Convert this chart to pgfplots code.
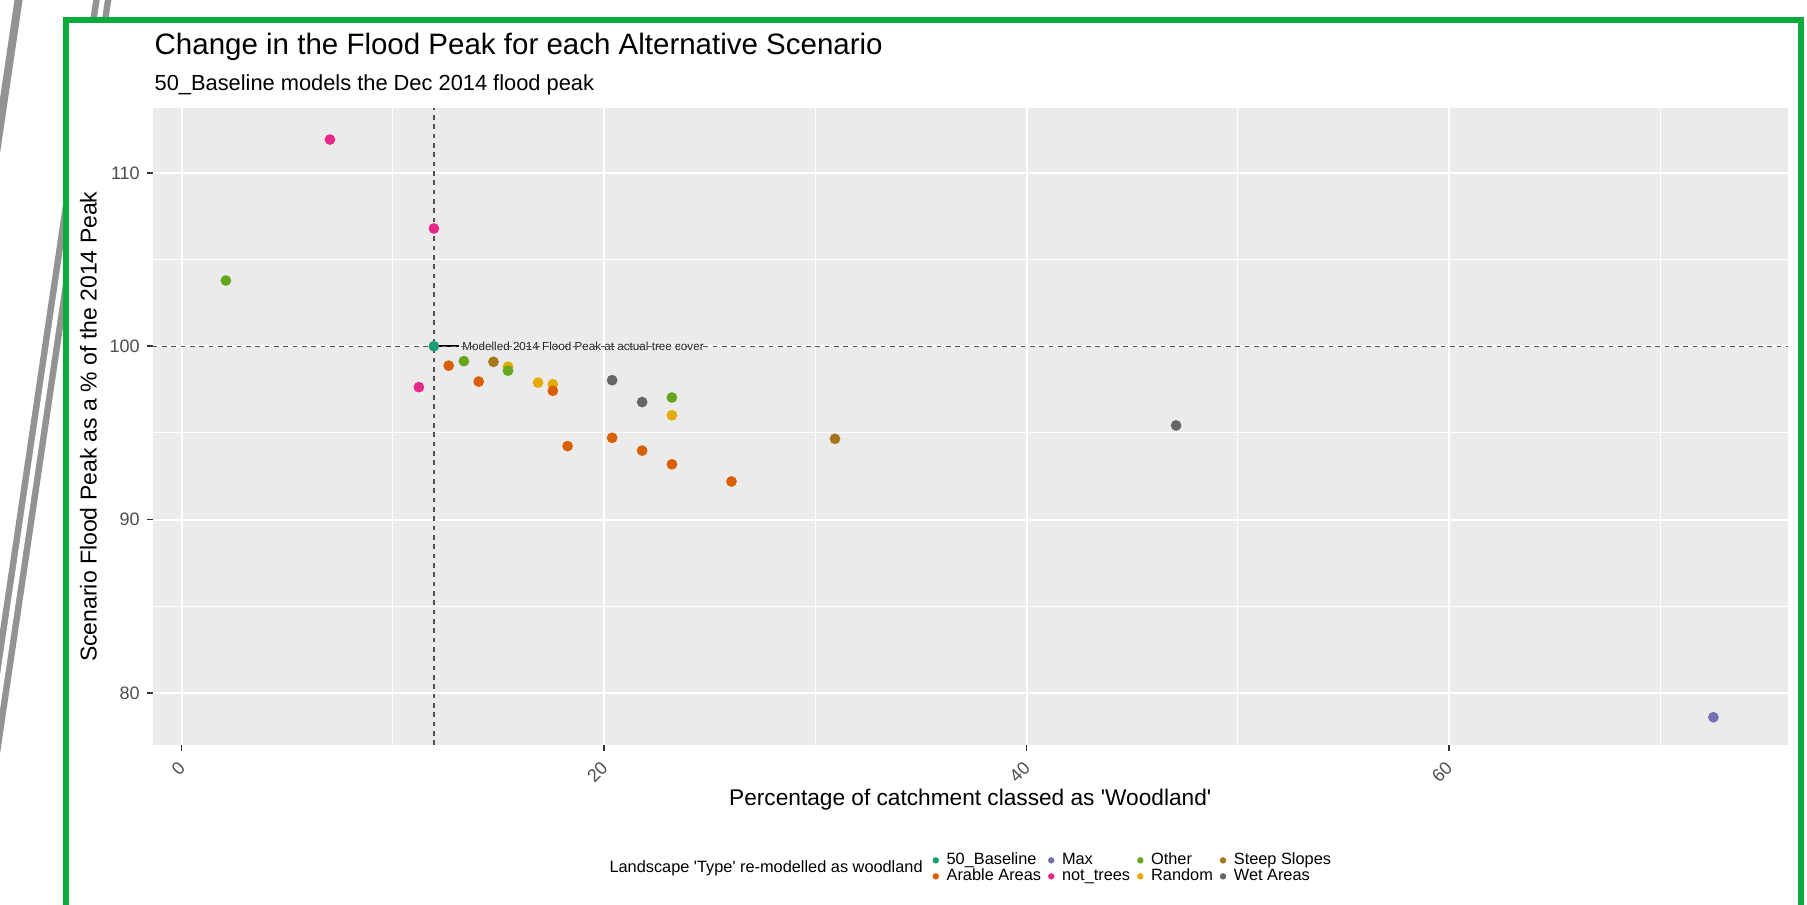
\documentclass[border=0pt]{standalone}
\usepackage{fontspec}
\setmainfont{Liberation Sans}
\usepackage{pgfplots}
\pgfplotsset{compat=1.18}
\definecolor{cBase}{HTML}{1B9E77}
\definecolor{cArable}{HTML}{D95F02}
\definecolor{cMax}{HTML}{7570B3}
\definecolor{cNot}{HTML}{E7298A}
\definecolor{cOther}{HTML}{66A61E}
\definecolor{cRandom}{HTML}{E6AB02}
\definecolor{cSteep}{HTML}{A6761D}
\definecolor{cWet}{HTML}{666666}
\definecolor{panelbg}{HTML}{EBEBEB}
\definecolor{ticklab}{HTML}{4D4D4D}
\definecolor{tickcol}{HTML}{333333}
\definecolor{frame}{RGB}{10,170,60}
\begin{document}
\begin{tikzpicture}
\useasboundingbox (0,0) rectangle (542.1pt,-271.2pt);
\clip (0,0) rectangle (542.1pt,-271.2pt);
% screenshot decoration
\draw[line width=2.4pt, gray!85] (6pt,3pt) -- (-1.5pt,-48pt);
\draw[line width=5.4pt, gray!85] (30.9pt,1.5pt) -- (-3pt,-228pt);
\draw[line width=1.5pt, white] (30.9pt,1.5pt) -- (-3pt,-228pt);
\draw[line width=1.8pt, draw=frame, fill=white] (19.65pt,-6pt) rectangle (540.3pt,-280pt);
% titles
\node[anchor=base west, inner sep=0pt, font=\fontsize{8.85pt}{10pt}\selectfont] at (46.2pt,-16.2pt) {Change in the Flood Peak for each Alternative Scenario};
\node[anchor=base west, inner sep=0pt, font=\fontsize{6.55pt}{8pt}\selectfont] at (46.2pt,-27.2pt) {50\_Baseline models the Dec 2014 flood peak};
\node[anchor=base, rotate=90, inner sep=0pt, font=\fontsize{6.9pt}{8pt}\selectfont] at (29.0pt,-128.0pt) {Scenario Flood Peak as a \% of the 2014 Peak};
\node[anchor=base, inner sep=0pt, font=\fontsize{6.8pt}{8pt}\selectfont] at (291.06pt,-241.5pt) {Percentage of catchment classed as \textquotesingle Woodland\textquotesingle};
\node[anchor=east, inner sep=0pt, font=\fontsize{4.9pt}{6pt}\selectfont] at (277.0pt,-260.5pt) {Landscape \textquotesingle Type\textquotesingle\ re-modelled as woodland};
\begin{axis}[
  at={(45.81pt,-223.5pt)}, anchor=south west,
  scale only axis, width=490.5pt, height=191.0pt,
  xmin=-1.373, xmax=76.04, ymin=77.0, ymax=113.72,
  axis background/.style={fill=panelbg},
  axis line style={draw=none},
  xtick={0,20,40,60}, ytick={80,90,100,110},
  minor xtick={10,30,50,70}, minor ytick={85,95,105},
  grid=both,
  major grid style={white, line width=0.6pt},
  minor grid style={white, line width=0.3pt},
  tick align=outside, xtick pos=bottom, ytick pos=left,
  major tick length=1.7pt, minor tick length=0pt,
  tick style={tickcol, line width=0.45pt},
  /pgf/number format/assume math mode=true,
  ticklabel style={font=\fontsize{5.4pt}{6pt}\selectfont, text=ticklab},
  yticklabel style={inner sep=0pt, xshift=-2.0pt},
  xticklabel style={xshift=-1.3pt, yshift=-2.7pt, rotate=45, anchor=north east, inner sep=0pt},
  legend columns=4,
  legend cell align=left,
  legend style={draw=none, fill=none, inner sep=0pt, outer sep=0pt,
    font=\fontsize{4.9pt}{5pt}\selectfont,
    nodes={inner xsep=0.5pt, inner ysep=0pt, text height=3.6pt, text depth=1.2pt},
    /tikz/every odd column/.style={column sep=1.8pt},
    /tikz/every even column/.style={column sep=1.6pt},
    at={(0.4770,-0.1937)}, anchor=west},
  legend image code/.code={\fill[#1] (0.75pt,0pt) circle (0.75pt);},
  clip=false,
]
\addlegendimage{cBase}\addlegendentry{50\_Baseline}
\addlegendimage{cMax}\addlegendentry{Max}
\addlegendimage{cOther}\addlegendentry{Other}
\addlegendimage{cSteep}\addlegendentry{Steep Slopes}
\addlegendimage{cArable}\addlegendentry{Arable Areas}
\addlegendimage{cNot}\addlegendentry{not\_trees}
\addlegendimage{cRandom}\addlegendentry{Random}
\addlegendimage{cWet}\addlegendentry{Wet Areas}
% points
\addplot[forget plot, only marks, mark=*, mark size=1.4pt, color=cMax] coordinates {(72.52,78.6)};
\addplot[forget plot, only marks, mark=*, mark size=1.4pt, color=cNot] coordinates {(7.02,111.92) (11.94,106.79) (11.23,97.64)};
\addplot[forget plot, only marks, mark=*, mark size=1.4pt, color=cRandom] coordinates {(15.45,98.82) (16.87,97.90) (17.57,97.81) (23.21,96.02)};
\addplot[forget plot, only marks, mark=*, mark size=1.4pt, color=cSteep] coordinates {(14.76,99.10) (30.93,94.66)};
\addplot[forget plot, only marks, mark=*, mark size=1.4pt, color=cWet] coordinates {(20.38,98.04) (21.80,96.78) (47.08,95.43)};
\addplot[forget plot, only marks, mark=*, mark size=1.4pt, color=cOther] coordinates {(2.09,103.79) (13.36,99.14) (15.45,98.59) (23.21,97.04)};
\addplot[forget plot, only marks, mark=*, mark size=1.4pt, color=cArable] coordinates {(12.64,98.88) (14.06,97.96) (17.57,97.43) (18.27,94.24) (20.38,94.72) (21.80,93.98) (23.21,93.19) (26.03,92.20)};
\addplot[forget plot, only marks, mark=*, mark size=1.4pt, color=cBase] coordinates {(11.94,100)};
% annotation
\addplot[forget plot, black, line width=0.6pt] coordinates {(11.94,100) (13.14,100)};
\addplot[forget plot, draw=none] coordinates {(13.26,100)} node[anchor=west, inner sep=0pt, font=\fontsize{3.5pt}{4pt}\selectfont, text=black!85] {Modelled 2014 Flood Peak at actual tree cover};
% reference lines
\addplot[forget plot, tickcol!85, line width=0.4pt, dash pattern=on 1.4pt off 1.4pt] coordinates {(-1.373,100) (76.04,100)};
\addplot[forget plot, tickcol!85, line width=0.4pt, dash pattern=on 1.4pt off 1.4pt] coordinates {(11.94,77.0) (11.94,113.72)};
\end{axis}
\end{tikzpicture}
\end{document}
